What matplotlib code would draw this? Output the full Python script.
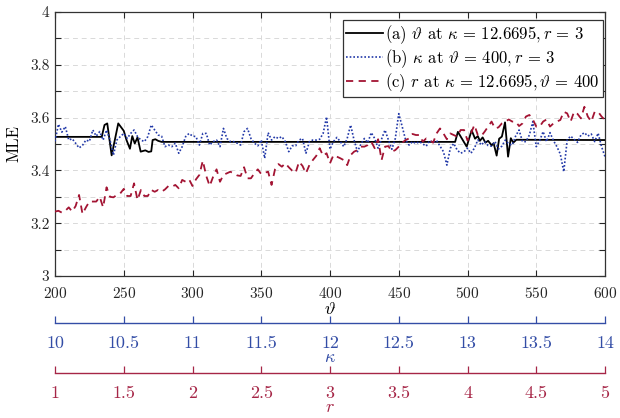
import numpy as np
import matplotlib
matplotlib.use("Agg")
import matplotlib.pyplot as plt
from matplotlib.ticker import FuncFormatter, MultipleLocator

plt.rcParams['font.family'] = 'cmr10'
plt.rcParams['mathtext.fontset'] = 'cm'
plt.rcParams['axes.formatter.use_mathtext'] = True

# ---------------- data ----------------
# (a) MLE vs theta at kappa = 12.6695, r = 3
theta_a = [200, 234, 236, 238, 241.2, 246, 250, 252, 254.5, 256.2, 258, 260,
           262.3, 265.7, 268, 270, 271, 273, 275, 277.5,
           491, 493, 499.4, 503, 505.5, 507.5, 509, 511, 513, 515, 517.6, 519,
           521.2, 523, 525, 527.3, 529.5, 531.5, 533.3, 535.5, 600]
mle_a = [3.527, 3.527, 3.572, 3.578, 3.457, 3.578, 3.550, 3.515, 3.482, 3.530,
         3.502, 3.525, 3.471, 3.476, 3.470, 3.472, 3.515, 3.518, 3.512, 3.508,
         3.508, 3.546, 3.490, 3.552, 3.520, 3.530, 3.512, 3.525, 3.505, 3.512,
         3.495, 3.503, 3.456, 3.520, 3.528, 3.582, 3.452, 3.522, 3.505, 3.516, 3.515]

# (b) MLE vs kappa at theta = 400, r = 3
kappa_b = np.round(np.arange(10.0, 14.0001, 0.025), 3)
mle_b = [
    3.510, 3.575, 3.545, 3.566, 3.515, 3.520, 3.503, 3.485, 3.495, 3.515,
    3.510, 3.553, 3.530, 3.547, 3.515, 3.553, 3.515, 3.458, 3.515, 3.528,
    3.540, 3.521, 3.540, 3.553, 3.528, 3.515, 3.509, 3.528, 3.572, 3.553,
    3.534, 3.530, 3.490, 3.496, 3.490, 3.503, 3.465, 3.490, 3.528, 3.540,
    3.530, 3.528, 3.496, 3.540, 3.540, 3.496, 3.509, 3.515, 3.490, 3.559,
    3.521, 3.509, 3.509, 3.503, 3.496, 3.547, 3.559, 3.521, 3.503, 3.493,
    3.515, 3.446, 3.543, 3.515, 3.528, 3.521, 3.528, 3.509, 3.471, 3.493,
    3.493, 3.515, 3.521, 3.465, 3.509, 3.515, 3.515, 3.518, 3.540, 3.603,
    3.480, 3.509, 3.525, 3.509, 3.490, 3.521, 3.572, 3.515, 3.471, 3.500,
    3.521, 3.505, 3.543, 3.521, 3.484, 3.518, 3.553, 3.515, 3.480, 3.521,
    3.615, 3.566, 3.515, 3.496, 3.509, 3.502, 3.509, 3.500, 3.492, 3.513,
    3.505, 3.513, 3.492, 3.471, 3.420, 3.484, 3.502, 3.477, 3.465, 3.471,
    3.484, 3.465, 3.484, 3.515, 3.496, 3.509, 3.494, 3.492, 3.509, 3.481,
    3.492, 3.515, 3.500, 3.496, 3.530, 3.553, 3.509, 3.509, 3.534, 3.585,
    3.490, 3.513, 3.547, 3.509, 3.543, 3.513, 3.490, 3.462, 3.395, 3.515,
    3.530, 3.518, 3.506, 3.534, 3.543, 3.530, 3.538, 3.509, 3.541, 3.490,
    3.452]

# (c) MLE vs r at kappa = 12.6695, theta = 400
r_c = np.round(np.arange(1.0, 5.0001, 0.025), 3)
mle_c = [
    3.244, 3.247, 3.240, 3.247, 3.260, 3.244, 3.265, 3.307, 3.235, 3.260,
    3.282, 3.282, 3.282, 3.300, 3.260, 3.336, 3.300, 3.298, 3.307, 3.313,
    3.330, 3.303, 3.303, 3.351, 3.288, 3.326, 3.303, 3.303, 3.326, 3.319,
    3.326, 3.319, 3.328, 3.341, 3.338, 3.345, 3.332, 3.364, 3.357, 3.366,
    3.341, 3.366, 3.383, 3.437, 3.379, 3.341, 3.376, 3.404, 3.357, 3.383,
    3.389, 3.395, 3.389, 3.381, 3.379, 3.412, 3.370, 3.370, 3.389, 3.404,
    3.386, 3.391, 3.395, 3.345, 3.404, 3.424, 3.414, 3.427, 3.412, 3.399,
    3.391, 3.433, 3.417, 3.389, 3.420, 3.439, 3.455, 3.484, 3.455, 3.465,
    3.427, 3.458, 3.452, 3.446, 3.439, 3.420, 3.458, 3.471, 3.477, 3.490,
    3.490, 3.496, 3.509, 3.484, 3.518, 3.439, 3.490, 3.492, 3.471, 3.477,
    3.490, 3.505, 3.515, 3.521, 3.538, 3.534, 3.534, 3.509, 3.521, 3.515,
    3.505, 3.540, 3.559, 3.540, 3.518, 3.540, 3.534, 3.528, 3.553, 3.553,
    3.513, 3.540, 3.572, 3.534, 3.530, 3.547, 3.566, 3.585, 3.559, 3.563,
    3.578, 3.585, 3.593, 3.585, 3.585, 3.568, 3.578, 3.604, 3.610, 3.593,
    3.566, 3.566, 3.585, 3.593, 3.566, 3.578, 3.585, 3.591, 3.622, 3.616,
    3.585, 3.622, 3.614, 3.597, 3.641, 3.604, 3.585, 3.622, 3.622, 3.604,
    3.591]

labels = [r"(a) $\vartheta$ at $\kappa \,=\, 12.6695, r \,=\, 3$",
          r"(b) $\kappa$ at $\vartheta \,=\, 400, r \,=\, 3$",
          r"(c) $r$ at $\kappa \,=\, 12.6695, \vartheta \,=\, 400$"]

theta_ticks = [200, 250, 300, 350, 400, 450, 500, 550, 600]
kappa_ticks = [10, 10.5, 11, 11.5, 12, 12.5, 13, 13.5, 14]
r_ticks = [1, 1.5, 2, 2.5, 3, 3.5, 4, 4.5, 5]

# ---------------- style ----------------
c_black = 'black'
c_blue = (0.13, 0.22, 0.66)
c_red = (0.64, 0.08, 0.20)
c_blue_ax = (0.20, 0.30, 0.65)
c_red_ax = (0.65, 0.15, 0.28)

fig = plt.figure(figsize=(6.2, 4.18), dpi=100)
L, W = 55 / 620, 550 / 620
ax = fig.add_axes([L, 1 - 276 / 418, W, 264 / 418])

# map kappa and r onto the theta axis through their own linear scales
ax_k = ax.twiny()
ax_r = ax.twiny()
for a in (ax_k, ax_r):
    a.set_axis_off()
ax_k.set_xlim(10, 14)
ax_r.set_xlim(1, 5)

ax.plot(theta_a, mle_a, color=c_black, lw=1.3, label=labels[0], zorder=5)
lb, = ax_k.plot(kappa_b, mle_b, color=c_blue, lw=1.2, ls=(0, (1, 1.2)), label=labels[1])
lr, = ax_r.plot(r_c, mle_c, color=c_red, lw=1.3, ls=(0, (4, 3)), label=labels[2])
for a in (ax_k, ax_r):
    a.set_ylim(3, 4)

ax.set_xlim(200, 600)
ax.set_ylim(3, 4)
ax.set_xticks(theta_ticks)
ax.yaxis.set_major_locator(MultipleLocator(0.1))
ax.yaxis.set_major_formatter(FuncFormatter(
    lambda v, p: (f"{v:.1f}".rstrip('0').rstrip('.') if round(v * 10) % 2 == 0 else "")))
ax.tick_params(direction='in', length=4, width=0.8, top=True, right=True,
               labelsize=11, colors='0.15')
ax.tick_params(axis='x', pad=7)
ax.tick_params(axis='y', pad=4)
ax.grid(True, color='0.85', ls=(0, (5, 4)), lw=0.7)
ax.set_axisbelow(True)
for s in ax.spines.values():
    s.set_color('0.2')
    s.set_linewidth(0.9)
ax.set_ylabel('MLE', fontsize=12, labelpad=6)
ax.set_xlabel(r'$\vartheta$', fontsize=13, labelpad=0)

h0 = ax.get_lines()[0]
leg = ax.legend([h0, lb, lr], labels, loc='upper right', fontsize=12,
                bbox_to_anchor=(0.9964, 0.97), borderaxespad=0,
                fancybox=False, framealpha=1, edgecolor='0.2',
                handlelength=2.2, handletextpad=0.15,
                borderpad=0.2, labelspacing=0.08)
leg.get_frame().set_linewidth(0.9)
leg.set_zorder(10)


def bottom_axis(yfrac, lim, ticks, color, lab):
    a = fig.add_axes([L, yfrac, W, 1e-5])
    a.patch.set_visible(False)
    for k in ('left', 'right', 'top'):
        a.spines[k].set_visible(False)
    a.spines['bottom'].set_color(color)
    a.spines['bottom'].set_linewidth(1.0)
    a.set_yticks([])
    a.set_xlim(*lim)
    a.set_xticks(ticks)
    a.set_xticklabels([f"{t:g}" for t in ticks])
    a.tick_params(axis='x', direction='in', length=5, width=0.9, colors=color,
                  labelsize=13, pad=9)
    a.set_xlabel(lab, color=color, fontsize=13, labelpad=-1)
    return a


bottom_axis(1 - 323 / 418, (10, 14), kappa_ticks, c_blue_ax, r'$\kappa$')
bottom_axis(1 - 373 / 418, (1, 5), r_ticks, c_red_ax, r'$r$')

fig.savefig('out.png', dpi=100)
